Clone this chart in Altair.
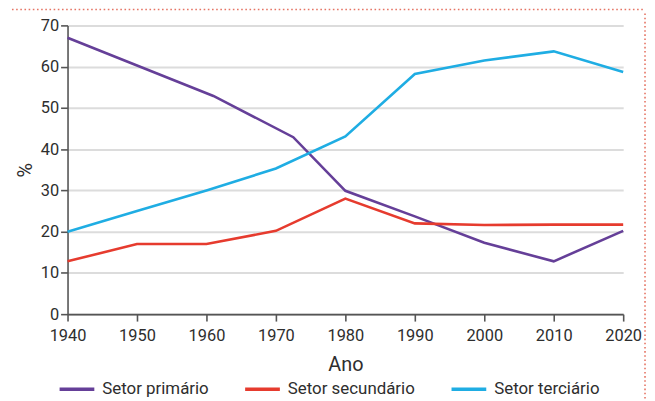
import altair as alt
import pandas as pd

setores = ["Setor primário", "Setor secundário", "Setor terciário"]
cores = ["#653f98", "#e63b2e", "#1fade3"]

anos_primario = [1940, 1961, 1972.5, 1980, 1990, 2000, 2010, 2020]
primario = [67.0, 52.9, 42.9, 29.9, 23.7, 17.3, 12.8, 20.2]

anos = [1940, 1950, 1960, 1970, 1980, 1990, 2000, 2010, 2020]
secundario = [12.8, 17.0, 17.0, 20.2, 28.0, 22.0, 21.6, 21.7, 21.7]
terciario = [20.0, 25.0, 30.0, 35.3, 43.1, 58.2, 61.5, 63.7, 58.7]

y_ticks = [0, 10, 20, 30, 40, 50, 60, 70]

rows = []
for a, v in zip(anos_primario, primario):
    rows.append({"ano": a, "valor": v, "setor": setores[0]})
for a, v in zip(anos, secundario):
    rows.append({"ano": a, "valor": v, "setor": setores[1]})
for a, v in zip(anos, terciario):
    rows.append({"ano": a, "valor": v, "setor": setores[2]})
df = pd.DataFrame(rows)

FONT = "Roboto"
TXT = "#2e2e2e"
AX = "#555555"

lines = alt.Chart(df).mark_line(strokeWidth=2.6).encode(
    x=alt.X(
        "ano:Q",
        scale=alt.Scale(domain=[1940, 2020], nice=False, zero=False),
        axis=alt.Axis(
            values=anos, format="d", title="Ano", grid=False,
            tickSize=7, labelPadding=7, titlePadding=10, labelFlush=False,
            labelFontSize=16.5, titleFontSize=20,
        ),
    ),
    y=alt.Y(
        "valor:Q",
        scale=alt.Scale(domain=[0, 70], nice=False),
        axis=alt.Axis(
            values=y_ticks, title="%", grid=True,
            tickSize=7, labelPadding=2, titlePadding=5, labelFlush=False,
            labelFontSize=16.5, titleFontSize=20,
        ),
    ),
    color=alt.Color(
        "setor:N",
        scale=alt.Scale(domain=setores, range=cores),
        legend=alt.Legend(
            title=None, orient="none", direction="horizontal",
            legendX=-10, legendY=347,
            symbolType="stroke", symbolSize=1225, symbolStrokeWidth=3.5,
            labelFontSize=17, labelOffset=6, columnPadding=29, padding=0,
            labelColor=TXT, labelFont=FONT,
        ),
    ),
)

frame_top = alt.Chart(pd.DataFrame({"k": [0]})).mark_rule(
    color="#e57464", strokeWidth=1.6, strokeDash=[1.6, 2.6], clip=False
).encode(x=alt.value(-56), x2=alt.value(582), y=alt.value(-16))

frame_right = alt.Chart(pd.DataFrame({"k": [0]})).mark_rule(
    color="#e57464", strokeWidth=1.6, strokeDash=[1.6, 2.6], clip=False
).encode(x=alt.value(582), y=alt.value(-12), y2=alt.value(377))

chart = alt.layer(lines, frame_top, frame_right).properties(
    width=560, height=291,
    autosize=alt.AutoSizeParams(type="none"),
    padding={"left": 60, "top": 16, "right": 24, "bottom": 85},
).configure_view(stroke=None).configure_axis(
    labelFont=FONT, titleFont=FONT, labelColor=TXT, titleColor=TXT,
    titleFontWeight="normal", domainColor=AX, tickColor=AX,
    domainWidth=1.6, tickWidth=1.6, gridColor="#dcdcdc", gridWidth=2,
)

chart.save("out.html", embed_options={"renderer": "svg", "actions": False})
